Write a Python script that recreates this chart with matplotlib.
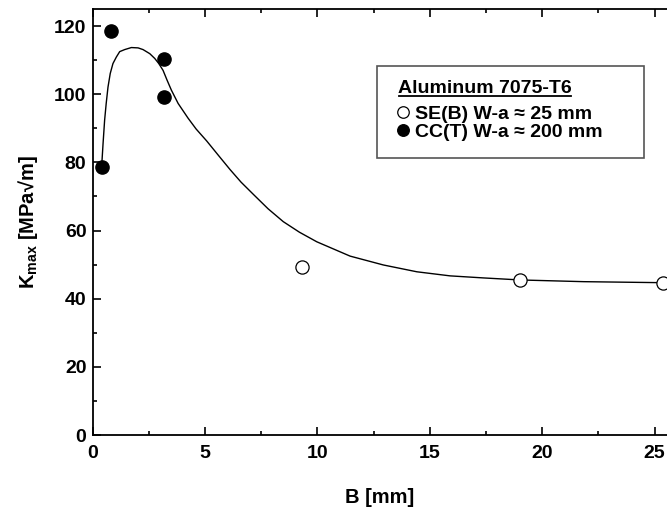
import matplotlib
matplotlib.use("Agg")
import matplotlib.pyplot as plt
from matplotlib.lines import Line2D
from matplotlib.patches import Rectangle
from matplotlib.ticker import MultipleLocator

plt.rcParams['font.family'] = ['Liberation Sans', 'DejaVu Sans']
plt.rcParams['font.weight'] = 'bold'
plt.rcParams['mathtext.fontset'] = 'custom'
plt.rcParams['mathtext.rm'] = 'Liberation Sans:bold'
plt.rcParams['mathtext.bf'] = 'Liberation Sans:bold'
plt.rcParams['mathtext.it'] = 'Liberation Sans:bold'

# Data
cct_B = [0.40, 0.80, 3.17, 3.17]
cct_K = [78.7, 118.5, 110.3, 99.1]
seb_B = [9.30, 19.02, 25.35]
seb_K = [49.2, 45.4, 44.7]
fit_B = [0.41, 0.46, 0.53, 0.60, 0.68, 0.78, 0.90, 1.05, 1.20, 1.42, 1.72, 2.02,
         2.24, 2.54, 2.76, 2.94, 3.13, 3.31, 3.50, 3.80, 4.24, 4.60, 5.07, 5.60,
         6.11, 6.60, 7.15, 7.80, 8.48, 9.20, 9.97, 11.45, 12.93, 14.42, 15.9,
         17.38, 19.02, 21.84, 25.35]
fit_K = [80.1, 85.5, 92.4, 97.3, 102.1, 106.1, 109.0, 110.9, 112.5, 113.1, 113.7, 113.6,
         113.1, 111.9, 110.5, 109.0, 107.0, 104.1, 101.2, 97.3, 93.0, 89.8, 86.3, 82.0,
         77.9, 74.2, 70.6, 66.4, 62.6, 59.5, 56.7, 52.5, 49.9, 47.9, 46.7,
         46.1, 45.5, 45.0, 44.7]

legend_title = "Aluminum 7075-T6"
label_seb = "SE(B) W-a \u2248 25 mm"
label_cct = "CC(T) W-a \u2248 200 mm"

fig = plt.figure(figsize=(6.67, 5.11), dpi=100)
ax = fig.add_axes([0.139, 0.1487, 0.861, 0.8336])

ax.plot(fit_B, fit_K, color='black', lw=1.0, zorder=2, solid_joinstyle='round')
ax.plot(seb_B, seb_K, 'o', ms=9.5, mfc='white', mec='black', mew=0.9, zorder=3)
ax.plot(cct_B, cct_K, 'o', ms=9.5, mfc='black', mec='black', zorder=3)

ax.set_xlim(0, 25.55)
ax.set_ylim(0, 125)
ax.xaxis.set_major_locator(MultipleLocator(5))
ax.xaxis.set_minor_locator(MultipleLocator(2.5))
ax.yaxis.set_major_locator(MultipleLocator(20))
ax.yaxis.set_minor_locator(MultipleLocator(10))
ax.tick_params(which='both', direction='in', top=True, right=False, width=1.2)
ax.tick_params(which='major', length=6, labelsize=14)
ax.tick_params(axis='x', which='major', pad=7)
ax.tick_params(axis='y', which='major', pad=4.5)
ax.tick_params(which='minor', length=3)
for lab in ax.get_xticklabels() + ax.get_yticklabels():
    lab.set_fontweight('bold')
ax.spines['right'].set_visible(False)
for s in ['left', 'bottom', 'top']:
    ax.spines[s].set_linewidth(1.3)

ax.set_xlabel("B [mm]", fontsize=14.5, fontweight='bold', labelpad=19)
ax.set_ylabel("K$_{\\mathregular{max}}$ [MPa\u221am]", fontsize=14.5, fontweight='bold', labelpad=10)

# legend frame
ax.add_patch(Rectangle((0.4953, 0.6495), 0.4649, 0.2174, transform=ax.transAxes,
                       fill=False, edgecolor='#555555', lw=1.2, zorder=4, clip_on=False))

title_txt = ax.text(0.5316, 0.802, legend_title, transform=ax.transAxes,
                    fontsize=14, fontweight='bold', ha='left', va='baseline', zorder=5)

handles = [Line2D([], [], ls='none', marker='o', ms=8.3, mfc='white', mec='black', mew=0.9),
           Line2D([], [], ls='none', marker='o', ms=8.3, mfc='black', mec='black')]
leg = ax.legend(handles, [label_seb, label_cct],
                loc='upper left', bbox_to_anchor=(0.530, 0.7746),
                prop={'weight': 'bold', 'size': 14},
                frameon=False, borderpad=0,
                handletextpad=0.3, handlelength=0.62, labelspacing=0.05,
                borderaxespad=0)

fig.canvas.draw()
tb = title_txt.get_window_extent()
inv = fig.transFigure.inverted()
(x0, y0), (x1, y1) = inv.transform([(tb.x0 + 1, tb.y0 + 1.5), (tb.x1 - 1, tb.y0 + 1.5)])
fig.add_artist(Line2D([x0, x1], [y0, y1], transform=fig.transFigure, color='black', lw=1.3))

fig.savefig("out.png", dpi=100)
